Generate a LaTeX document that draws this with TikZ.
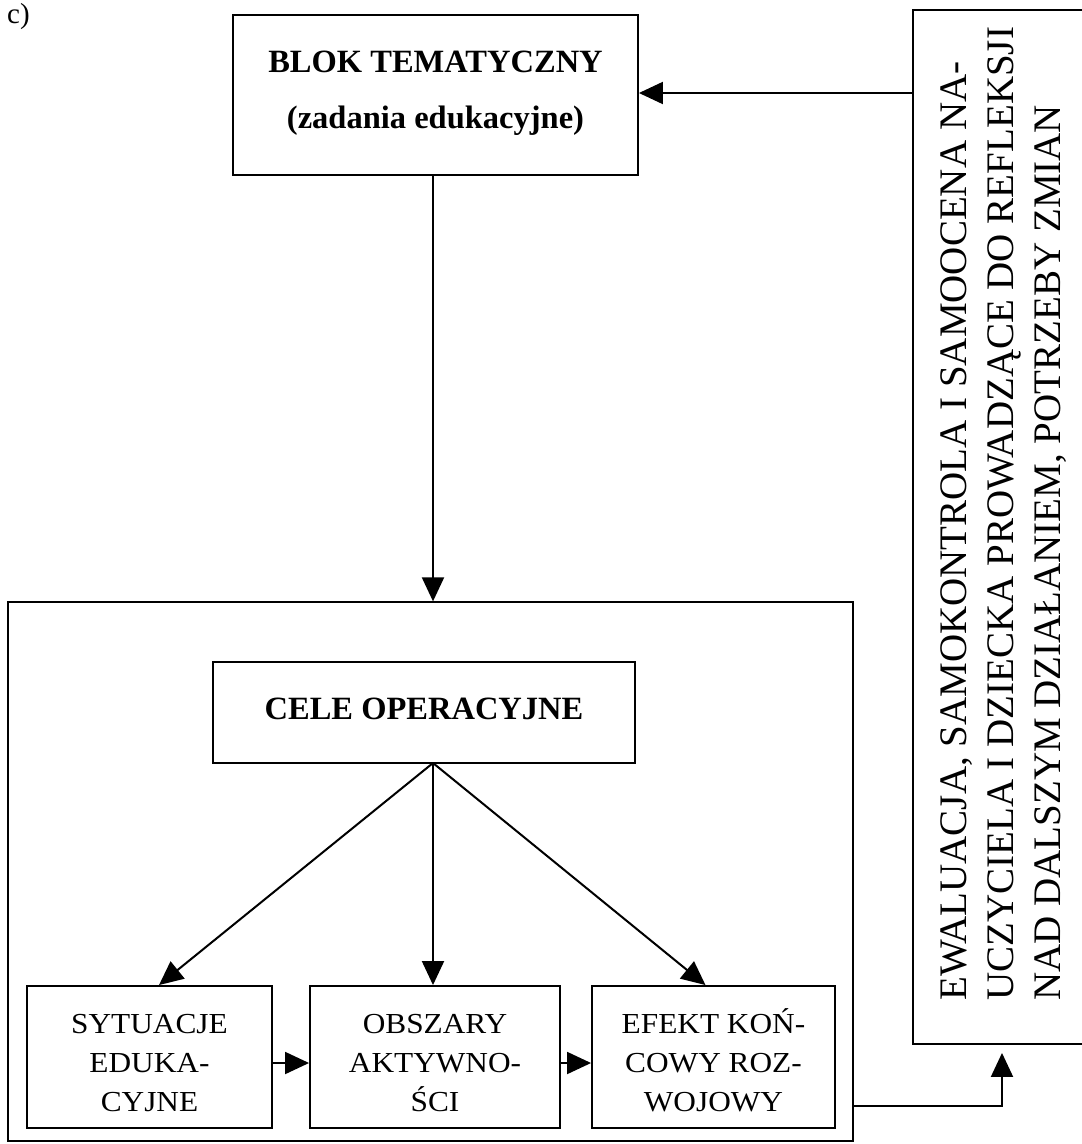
\documentclass[tikz,border=0pt]{standalone}
\usepackage{fontspec}
\setmainfont{Liberation Serif}
\newfontfamily\boxfont[FakeStretch=1.08]{Liberation Serif}
\usetikzlibrary{arrows.meta}

\begin{document}
\begin{tikzpicture}[x=1pt,y=-1pt,
  box/.style={draw, line width=1.9pt, inner sep=0pt},
  bigbold/.style={font=\bfseries\fontsize{32.5}{56}\selectfont, align=center},
  small/.style={font=\boxfont\fontsize{29}{39}\selectfont, align=center, text depth=0pt},
  rot/.style={rotate=90, anchor=base west, inner sep=0pt, font=\fontsize{39}{47}\selectfont},
  arr/.style={line width=2pt, -{Triangle[length=24pt,width=22pt]}}]
\useasboundingbox (0,0) rectangle (1082,1144);

% panel label
\node[anchor=base west, inner sep=0pt, font=\fontsize{29}{34}\selectfont] (lab) at (7,23) {c)};

% thematic block
\node[box, minimum width=405pt, minimum height=160pt, bigbold, text depth=11.5pt]
  (blok) at (435.5,95) {BLOK TEMATYCZNY\\(zadania edukacyjne)};

% frame around the operational part
\node[box, line width=1.3pt, minimum width=845pt, minimum height=539pt] (outer) at (430.5,871.5) {};

\node[box, minimum width=422pt, minimum height=101pt,
  font=\bfseries\fontsize{32.5}{40}\selectfont, text height=21.5pt, text depth=8.5pt]
  (cele) at (424,712.5) {CELE OPERACYJNE};

\node[box, small, minimum width=245pt, minimum height=142pt] (s1) at (149.5,1057)
  {\rule{0pt}{30pt}SYTUACJE\\EDUKA-\\CYJNE};
\node[box, small, minimum width=250pt, minimum height=142pt] (s2) at (435,1057)
  {\rule{0pt}{30pt}OBSZARY\\AKTYWNO-\\ŚCI};
\node[box, small, minimum width=243pt, minimum height=142pt] (s3) at (713.5,1057)
  {\rule{0pt}{30pt}EFEKT KOŃ-\\COWY ROZ-\\WOJOWY};

% evaluation column
\node[box, minimum width=182pt, minimum height=1034pt] (rbox) at (1004,527) {};
\node[rot] (r1) at (966,1001) {EWALUACJA, SAMOKONTROLA I SAMOOCENA NA-};
\node[rot] (r2) at (1013,1001) {UCZYCIELA I DZIECKA PROWADZĄCE DO REFLEKSJI};
\node[rot] (r3) at (1060,1001) {NAD DALSZYM DZIAŁANIEM, POTRZEBY ZMIAN};

% connectors
\coordinate (apex) at (433,763);
\coordinate (fb) at (900,93);
\coordinate (fk) at (1002,1106);

\draw[arr] (blok.south -| apex) -- (outer.north -| apex);
\draw[arr] (apex) -- ([xshift=9.5pt]s1.north);
\draw[arr] (apex) -- (s2.north -| apex);
\draw[arr] (apex) -- ([xshift=-8pt]s3.north);
\draw[arr] ([yshift=-6pt]s1.east) -- ([yshift=-6pt]s2.west);
\draw[arr] ([yshift=-6pt]s2.east) -- ([yshift=-6pt]s3.west);
\draw[arr, shorten >=8pt] (outer.east |- fk) -- (fk) -- (rbox.south -| fk);
\draw[arr] (rbox.west |- fb) -- (blok.east |- fb);
\end{tikzpicture}
\end{document}
